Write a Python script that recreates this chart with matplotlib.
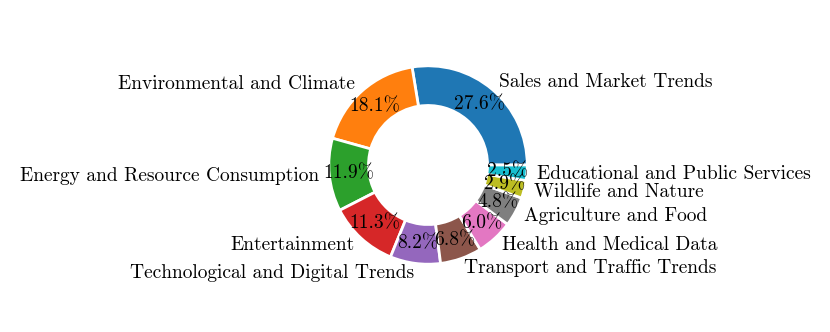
import matplotlib
matplotlib.use("Agg")
import matplotlib.pyplot as plt

plt.rcParams['font.family'] = ['cmr10', 'DejaVu Serif']
plt.rcParams['mathtext.fontset'] = 'cm'
plt.rcParams['axes.unicode_minus'] = False

categories = ["Sales and Market Trends", "Environmental and Climate",
              "Energy and Resource Consumption", "Entertainment",
              "Technological and Digital Trends", "Transport and Traffic Trends",
              "Health and Medical Data", "Agriculture and Food",
              "Wildlife and Nature", "Educational and Public Services"]
values = [27.6, 18.1, 11.9, 11.3, 8.2, 6.8, 6.0, 4.8, 2.9, 2.5]
colors = ["#1f77b4", "#ff7f0e", "#2ca02c", "#d62728", "#9467bd",
          "#8c564b", "#e377c2", "#7f7f7f", "#bcbd22", "#17becf"]

fig = plt.figure(figsize=(8.3, 3.32), dpi=100)
ax = fig.add_axes([0.3663, 0.1295, 0.2988, 0.747])
wedges, texts, autotexts = ax.pie(
    values, labels=categories, colors=colors, autopct='%1.1f%%',
    pctdistance=0.8, labeldistance=1.1, startangle=0,
    wedgeprops=dict(width=0.4, edgecolor='white', linewidth=2),
    textprops=dict(fontsize=14))
ax.set_aspect('equal')
fig.savefig("out.png", dpi=100)
